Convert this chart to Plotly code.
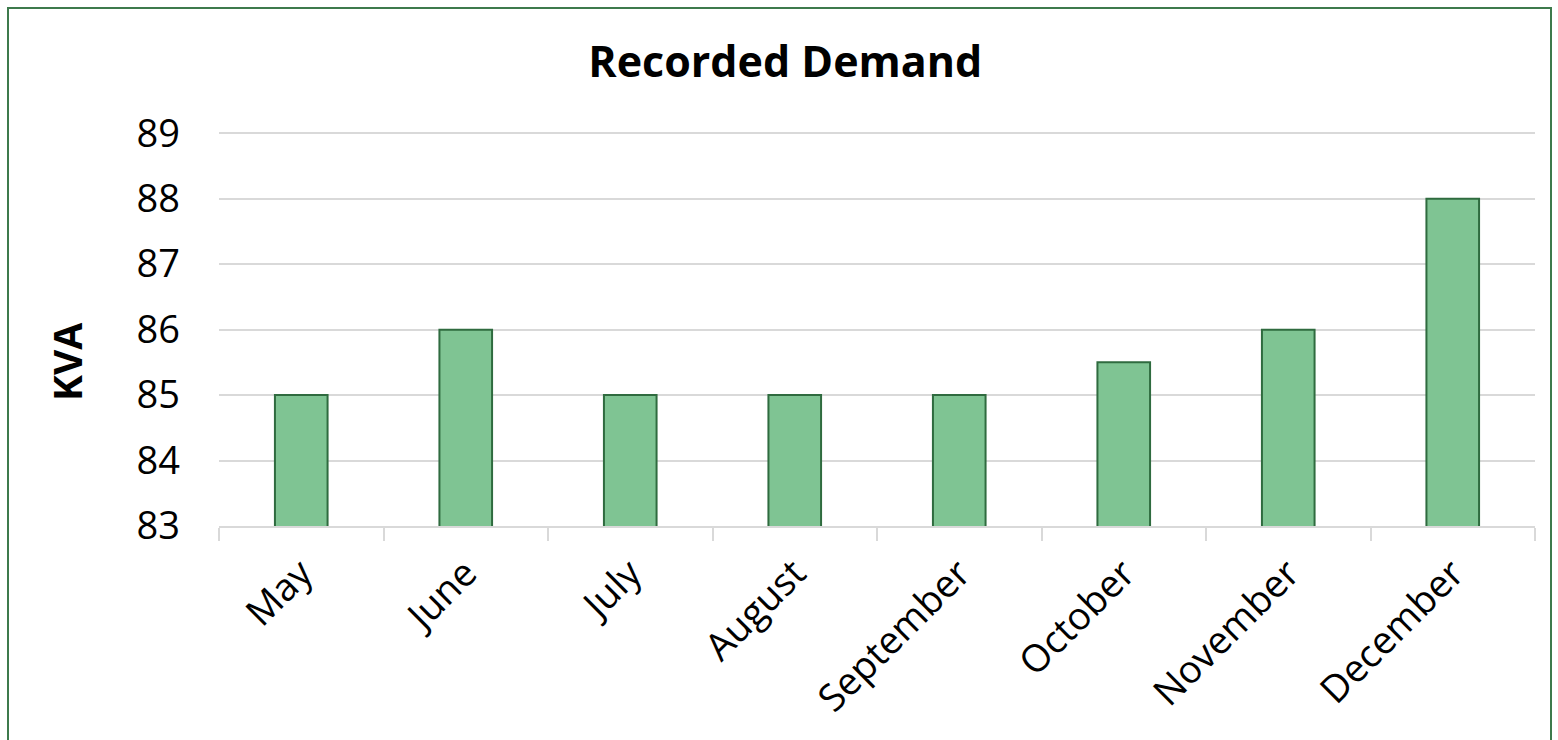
import plotly.graph_objects as go

months = ["May", "June", "July", "August", "September", "October", "November", "December"]
kva = [85, 86, 85, 85, 85, 85.5, 86, 88]
y_ticks = [83, 84, 85, 86, 87, 88, 89]

FONT = "'Open Sans', sans-serif"

fig = go.Figure(go.Bar(
    x=months, y=kva,
    marker=dict(color="#7FC493", line=dict(color="#2F6B3F", width=2)),
    width=0.32,
))

fig.update_layout(
    width=1558, height=740,
    margin=dict(l=219, r=23, t=130, b=214),
    paper_bgcolor="white", plot_bgcolor="white",
    showlegend=False,
    font=dict(family=FONT, color="black"),
    title=dict(text="<b>Recorded Demand</b>", x=0.504, xanchor="center",
               y=1 - 62 / 740, yanchor="middle",
               font=dict(size=43, family=FONT, color="black")),
    xaxis=dict(
        type="category", tickangle=-45, tickson="boundaries",
        ticks="outside", ticklen=13, tickcolor="#d9d9d9", tickwidth=1.5,
        showline=True, linecolor="#d9d9d9", linewidth=1.5,
        showgrid=False, tickfont=dict(size=38, family=FONT),
        ticklabelstandoff=8,
    ),
    yaxis=dict(
        range=[83, 89.05], tickvals=y_ticks, showgrid=True,
        gridcolor="#d9d9d9", gridwidth=1.5, zeroline=False,
        showline=False, ticks="", tickfont=dict(size=38, family=FONT),
        ticklabelstandoff=38,
    ),
    shapes=[dict(type="rect", xref="paper", yref="paper",
                 x0=-211 / 1316, x1=1 + 16 / 1316, y0=-1.5, y1=1 + 122 / 396,
                 line=dict(color="#3D7A4C", width=2), layer="above")],
    annotations=[dict(text="<b>KVA</b>", xref="paper", yref="paper",
                      x=-153 / 1316, y=(526 - 362) / 396, textangle=-90,
                      showarrow=False, xanchor="center", yanchor="middle",
                      font=dict(size=39, family=FONT, color="black"))],
)

fig.write_html("out.html")
